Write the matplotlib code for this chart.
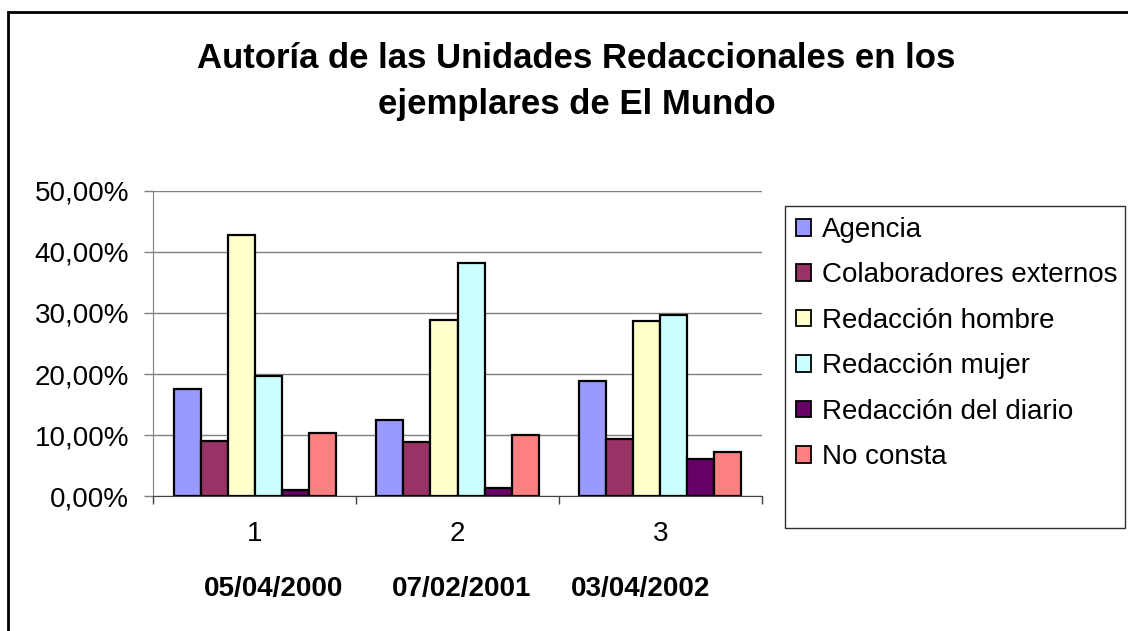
import numpy as np
import matplotlib.pyplot as plt
from matplotlib.patches import Rectangle
from matplotlib.ticker import FuncFormatter

plt.rcParams['font.family'] = ['Liberation Sans', 'DejaVu Sans']

# Datos (porcentajes)
grupos = ['1', '2', '3']
fechas = ['05/04/2000', '07/02/2001', '03/04/2002']
series = ['Agencia', 'Colaboradores externos', 'Redacción hombre',
          'Redacción mujer', 'Redacción del diario', 'No consta']
agencia = [17.5, 12.5, 18.9]
colaboradores = [9.0, 8.9, 9.3]
red_hombre = [42.7, 28.9, 28.6]
red_mujer = [19.7, 38.2, 29.7]
red_diario = [1.1, 1.4, 6.1]
no_consta = [10.3, 10.0, 7.2]
valores = [agencia, colaboradores, red_hombre, red_mujer, red_diario, no_consta]
colores = ['#9999FF', '#993366', '#FFFFCC', '#CCFFFF', '#660066', '#FF8080']

fig = plt.figure(figsize=(11.28, 6.31), dpi=100)
ax = fig.add_axes([0.1359, 0.2135, 0.5394, 0.4843])

x = np.arange(len(grupos))
ancho = 1 / 7.5
for i, (nombre, v) in enumerate(zip(series, valores)):
    ax.bar(x + (i - 2.5) * ancho, np.array(v) / 100, ancho, color=colores[i],
           edgecolor='black', linewidth=1.6, label=nombre, zorder=3)

ax.set_xlim(-0.5, 2.5)
ax.set_ylim(0, 0.5)
ax.set_yticks(np.arange(0, 0.51, 0.1))
ax.yaxis.set_major_formatter(FuncFormatter(lambda v, p: f'{v*100:.2f}%'.replace('.', ',')))
ax.grid(axis='y', color='#808080', linewidth=1.0, zorder=0)
ax.set_axisbelow(True)

ax.set_xticks(x)
ax.set_xticklabels(grupos)
ax.set_xticks([-0.5, 0.5, 1.5, 2.5], minor=True)
ax.tick_params(axis='x', which='major', length=0, pad=18, labelsize=20)
ax.tick_params(axis='x', which='minor', length=6, width=1, color='#404040', direction='out')
ax.tick_params(axis='y', length=6.5, width=1, color='#808080', pad=11, labelsize=20)

for s in ['top', 'right']:
    ax.spines[s].set_visible(False)
ax.spines['left'].set_color('#808080')
ax.spines['bottom'].set_color('#404040')

# Fechas bajo las categorías
for xp, f in zip([0.197, 0.5066, 0.8016], fechas):
    ax.text(xp, -0.302, f, transform=ax.transAxes, ha='center', va='center',
            fontsize=20, fontweight='bold')

fig.text(0.511, 0.871, 'Autoría de las Unidades Redaccionales en los\nejemplares de El Mundo',
         ha='center', va='center', fontsize=25, fontweight='bold', linespacing=1.48)

# Leyenda
ley = ax.legend(loc='upper left', bbox_to_anchor=(796 / 1128, (631 - 217) / 631),
                bbox_transform=fig.transFigure, frameon=False, fontsize=20,
                handlelength=0.55, handleheight=0.55, handletextpad=0.4,
                labelspacing=0.7, borderpad=0, borderaxespad=0)
for h in ley.legend_handles:
    h.set_linewidth(1.3)
fig.patches.append(Rectangle((785 / 1128, (631 - 528) / 631), 340 / 1128, 322 / 631,
                             transform=fig.transFigure, fill=False,
                             edgecolor='#303030', linewidth=1.0))

# Marco exterior
fig.patches.append(Rectangle((8 / 1128, -0.1), 1.2, (631 - 12) / 631 + 0.1,
                             transform=fig.transFigure, fill=False,
                             edgecolor='black', linewidth=2.0))

fig.savefig('out.png', dpi=100)
